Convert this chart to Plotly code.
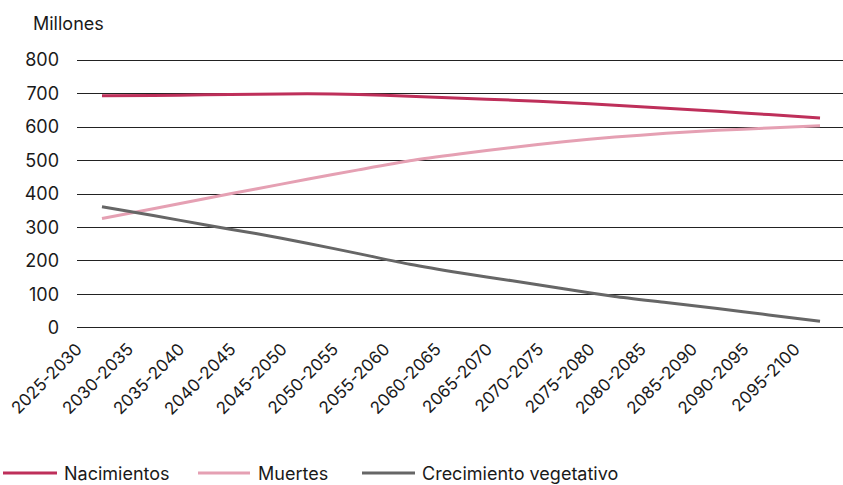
import plotly.graph_objects as go

periods = ["2025-2030", "2030-2035", "2035-2040", "2040-2045", "2045-2050",
           "2050-2055", "2055-2060", "2060-2065", "2065-2070", "2070-2075",
           "2075-2080", "2080-2085", "2085-2090", "2090-2095", "2095-2100"]
nacimientos = [693, 694, 696, 698, 699, 697, 692, 686, 680, 673, 665, 656, 647, 637, 627]
muertes = [327, 356, 386, 415, 444, 472, 499, 520, 539, 556, 570, 581, 590, 597, 604]
crecimiento = [362, 336, 308, 282, 253, 222, 190, 164, 141, 117, 94, 76, 58, 39, 20]
y_ticks = [0, 100, 200, 300, 400, 500, 600, 700, 800]

series_names = ["Nacimientos", "Muertes", "Crecimiento vegetativo"]
colors = ["#BE2F5A", "#E5A0B3", "#666666"]

W, H = 843, 485
L, R, T, B = 77, 0, 57, 154
PW, PH = W - L - R, H - T - B
FONT = "Inter, Liberation Sans, Arial, sans-serif"
TXT = "#1a1a1a"

def px_x(px):
    return (px - L) / PW

def px_y(py):
    return (H - B - py) / PH

fig = go.Figure()
for name, vals, col in zip(series_names, [nacimientos, muertes, crecimiento], colors):
    fig.add_trace(go.Scatter(x=periods, y=vals, mode="lines", name=name,
                             line=dict(color=col, width=3, shape="spline", smoothing=0.6),
                             showlegend=False))

# custom legend (longer line samples as in the reference)
legend_items = [(3, 57, 62), (198, 250, 256), (362, 415, 420)]
shapes = []
annotations = []
ly = 473
for (x0, x1, tx), name, col in zip(legend_items, series_names, colors):
    shapes.append(dict(type="line", xref="paper", yref="paper",
                       x0=px_x(x0), x1=px_x(x1), y0=px_y(ly), y1=px_y(ly),
                       line=dict(color=col, width=3)))
    annotations.append(dict(text=name, xref="paper", yref="paper",
                            x=px_x(tx), y=px_y(ly), xanchor="left", yanchor="middle",
                            showarrow=False, font=dict(family=FONT, size=18, color=TXT)))

annotations.append(dict(text="Millones", xref="paper", yref="paper",
                        x=px_x(31), y=px_y(24), xanchor="left", yanchor="middle",
                        showarrow=False, font=dict(family=FONT, size=18, color=TXT)))

fig.update_layout(
    width=W, height=H,
    margin=dict(l=L, r=R, t=T, b=B),
    paper_bgcolor="white", plot_bgcolor="white",
    font=dict(family=FONT, size=18, color=TXT),
    shapes=shapes, annotations=annotations,
    showlegend=False,
)
fig.update_xaxes(type="category", range=[-0.487, 14.448], showgrid=False,
                 showline=False, zeroline=False, ticks="", tickangle=-45,
                 tickfont=dict(family=FONT, size=17, color=TXT),
                 ticklabelshift=-25, ticklabelstandoff=4)
fig.update_yaxes(range=[-9, 809], tickvals=y_ticks, showgrid=True,
                 gridcolor="#222222", gridwidth=1, zeroline=False, showline=False,
                 ticks="", ticklabelstandoff=17,
                 tickfont=dict(family=FONT, size=18, color=TXT))

fig.write_html("out.html", config={"displayModeBar": False},
               post_script="document.body.style.margin='0';")
